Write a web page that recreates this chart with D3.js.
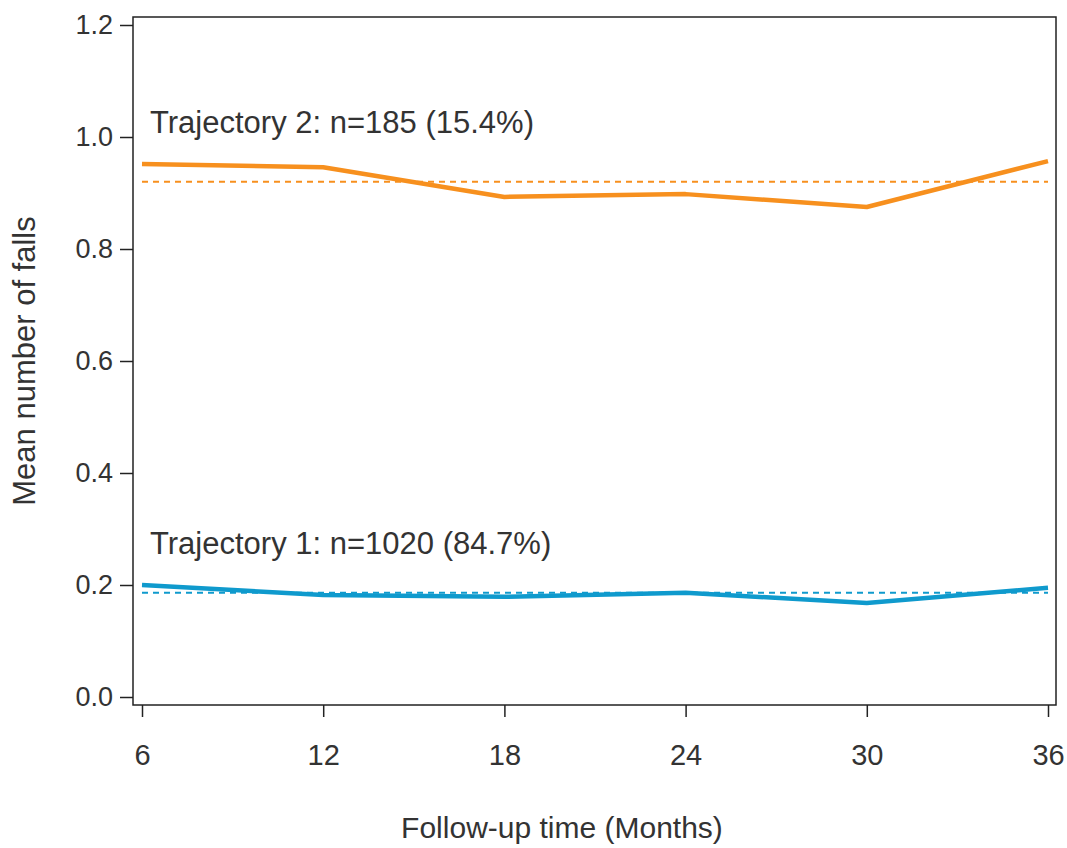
<!DOCTYPE html>
<html>
<head>
<meta charset="utf-8">
<script src="https://cdn.jsdelivr.net/npm/d3@7"></script>
<style>
  body { margin: 0; background: #fff; }
  text { font-family: "Liberation Sans", Arial, sans-serif; fill: #333; }
</style>
</head>
<body>
<div id="chart"></div>
<script>
// months of follow-up
var months = [6, 12, 18, 24, 30, 36];
// mean number of falls per trajectory group
var traj1 = [0.200, 0.182, 0.179, 0.186, 0.168, 0.195];
var traj2 = [0.952, 0.946, 0.893, 0.898, 0.875, 0.957];
// overall means (dashed reference lines)
var traj1_mean = 0.186;
var traj2_mean = 0.920;
var y_ticks = [0.0, 0.2, 0.4, 0.6, 0.8, 1.0, 1.2];
var labels = ["Trajectory 1: n=1020 (84.7%)", "Trajectory 2: n=185 (15.4%)"];
var label_y = [0.255, 1.007];

var width = 1067, height = 848;
var box = {left: 133, top: 17, right: 1056, bottom: 705};

var svg = d3.select("#chart")
    .append("svg")
    .attr("width", width)
    .attr("height", height);

var x = d3.scaleLinear()
    .domain([6, 36])
    .range([142, 1048]);

var y = d3.scaleLinear()
    .domain([0, 1.2])
    .range([697, 25]);

// Build axes
var yAxis = svg.append("g")
    .attr("transform", "translate(" + box.left + ",0)")
    .call(d3.axisLeft(y).tickValues(y_ticks).tickSize(13).tickPadding(7)
        .tickFormat(d3.format(".1f")));
var xAxis = svg.append("g")
    .attr("transform", "translate(0," + box.bottom + ")")
    .call(d3.axisBottom(x).tickValues(months).tickSize(12).tickPadding(27)
        .tickFormat(d3.format("d")));

[yAxis, xAxis].forEach(function(a) {
    a.select(".domain").remove();
    a.selectAll(".tick line").attr("stroke", "#222").attr("stroke-width", 1.5);
    a.selectAll(".tick text").style("fill", "#333");
});
yAxis.selectAll(".tick text").style("font-size", "27px");
xAxis.selectAll(".tick text").style("font-size", "29px");

// plot frame
svg.append("rect")
    .attr("x", box.left)
    .attr("y", box.top)
    .attr("width", box.right - box.left)
    .attr("height", box.bottom - box.top)
    .attr("fill", "none")
    .attr("stroke", "#222")
    .attr("stroke-width", 1.5);

var series = [
    {values: traj1, mean: traj1_mean, color: "#0f9acd"},
    {values: traj2, mean: traj2_mean, color: "#f7901e"}
];

var line = d3.line()
    .x(function(d, i) { return x(months[i]); })
    .y(function(d) { return y(d); });

series.forEach(function(s) {
    svg.append("line")
        .attr("x1", x(months[0]))
        .attr("x2", x(months[months.length - 1]))
        .attr("y1", y(s.mean))
        .attr("y2", y(s.mean))
        .attr("stroke", s.color)
        .attr("stroke-width", 2)
        .attr("stroke-dasharray", "6,5");

    svg.append("path")
        .datum(s.values)
        .attr("d", line)
        .attr("fill", "none")
        .attr("stroke", s.color)
        .attr("stroke-width", 4.5)
        .attr("stroke-linejoin", "round");
});

// trajectory labels
labels.forEach(function(t, i) {
    svg.append("text")
        .attr("x", 150)
        .attr("y", y(label_y[i]))
        .style("font-size", "31px")
        .text(t);
});

// axis titles
svg.append("text")
    .attr("x", 562)
    .attr("y", 838)
    .attr("text-anchor", "middle")
    .style("font-size", "30px")
    .text("Follow-up time (Months)");

svg.append("text")
    .attr("transform", "translate(35,361) rotate(-90)")
    .attr("text-anchor", "middle")
    .style("font-size", "31px")
    .text("Mean number of falls");
</script>
</body>
</html>
